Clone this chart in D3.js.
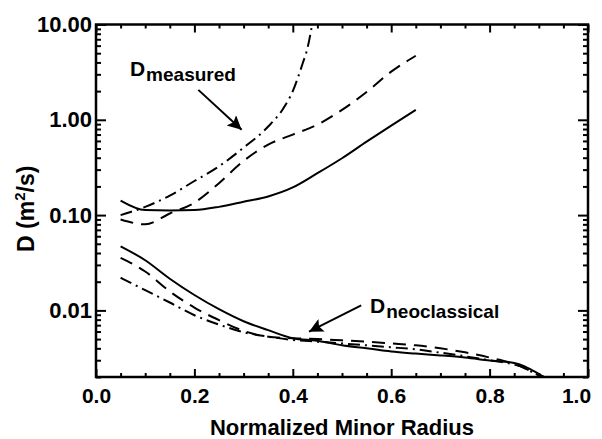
<!DOCTYPE html>
<html>
<head>
<meta charset="utf-8">
<script src="https://cdn.jsdelivr.net/npm/d3@7"></script>
<style>
    body { margin: 0; background: #fff; }
    svg text { font-family: "Liberation Sans", Arial, Helvetica, sans-serif; font-weight: bold; fill: #000; }
</style>
</head>
<body>
<svg id="chart" width="602" height="439"></svg>
<script>
    // measured diffusivities (upper group)
    var radiusMeasured = [0.05, 0.10, 0.15, 0.20, 0.25, 0.30, 0.35, 0.40, 0.45, 0.50, 0.55, 0.60, 0.65];
    var measuredSolid = [0.142, 0.113, 0.112, 0.113, 0.122, 0.138, 0.157, 0.195, 0.275, 0.395, 0.59, 0.87, 1.27];
    var measuredDashed = [0.090, 0.080, 0.104, 0.135, 0.216, 0.37, 0.55, 0.70, 0.89, 1.27, 1.96, 3.2, 4.7];
    var radiusDashDot = [0.05, 0.10, 0.15, 0.20, 0.25, 0.30, 0.35, 0.38, 0.40, 0.42, 0.43, 0.44];
    var measuredDashDot = [0.100, 0.122, 0.160, 0.228, 0.325, 0.51, 0.85, 1.3, 2.0, 3.9, 5.7, 10.5];

    // neoclassical diffusivities (lower group)
    var radiusNeo = [0.05, 0.10, 0.15, 0.20, 0.25, 0.30, 0.35, 0.40, 0.45, 0.50, 0.55, 0.60, 0.65, 0.70, 0.75, 0.80, 0.85, 0.87, 0.89, 0.91];
    var neoSolid = [0.047, 0.0336, 0.0215, 0.0145, 0.0103, 0.0077, 0.0062, 0.0051, 0.0048, 0.0043, 0.0040, 0.0037, 0.00352, 0.00337, 0.0032, 0.00298, 0.0028, 0.0026, 0.0023, 0.0020];
    var neoDashed = [0.0356, 0.0256, 0.0158, 0.0107, 0.0079, 0.0061, 0.0053, 0.0051, 0.0050, 0.00485, 0.0047, 0.0045, 0.0043, 0.0040, 0.00363, 0.0032, 0.00275, 0.0025, 0.0022, 0.0020];
    var neoDashDot = [0.022, 0.0163, 0.0121, 0.0089, 0.0071, 0.0059, 0.0053, 0.0049, 0.0047, 0.0045, 0.0043, 0.0041, 0.0039, 0.0036, 0.0033, 0.0030, 0.0027, 0.0025, 0.0022, 0.0020];

    var xTickValues = [0, 0.2, 0.4, 0.6, 0.8, 1.0];
    var yTickValues = [0.01, 0.1, 1, 10];

    var svg = d3.select('#chart');
    var margin = {top: 24.5, right: 14, bottom: 62, left: 96};
    var w = 602 - margin.left - margin.right;
    var h = 439 - margin.top - margin.bottom;

    var x = d3.scaleLinear().domain([0, 1]).range([0, w]);
    var y = d3.scaleLog().domain([0.002, 10]).range([h, 0]);

    var g = svg.append('g').attr('transform', 'translate(' + margin.left + ',' + margin.top + ')');

    g.append('clipPath').attr('id', 'plot-clip')
        .append('rect').attr('width', w).attr('height', h);

    // minor tick values
    var xMinor = d3.range(0, 1.0001, 0.05).filter(function (v) {
        return Math.abs(v * 5 - Math.round(v * 5)) > 1e-6;
    });
    var yMinor = [];
    [0.001, 0.01, 0.1, 1].forEach(function (dec) {
        for (var k = 2; k <= 9; k++) {
            var v = dec * k;
            if (v >= 0.002 && v <= 10) { yMinor.push(v); }
        }
    });

    function styleAxis(sel) {
        sel.attr('font-family', null).attr('font-size', 22);
        sel.select('.domain').remove();
        sel.selectAll('line').attr('stroke-width', 2);
    }

    // bottom / top axes
    var xAxisG = g.append('g').attr('transform', 'translate(0,' + h + ')')
        .call(d3.axisBottom(x).tickValues(xTickValues).tickSize(-8).tickPadding(11).tickFormat(d3.format('.1f')))
        .call(styleAxis)
        .attr('font-size', 21);
    // last label sits inside the picture edge, like the original
    xAxisG.selectAll('.tick text').filter(function (d) { return d === 1; }).attr('dx', -12);

    g.append('g').attr('transform', 'translate(0,' + h + ')')
        .call(d3.axisBottom(x).tickValues(xMinor).tickSize(-4).tickFormat(''))
        .call(styleAxis);
    g.append('g')
        .call(d3.axisTop(x).tickValues(xTickValues).tickSize(-8).tickFormat(''))
        .call(styleAxis);
    g.append('g')
        .call(d3.axisTop(x).tickValues(xMinor).tickSize(-4).tickFormat(''))
        .call(styleAxis);

    // left / right axes
    g.append('g')
        .call(d3.axisLeft(y).tickValues(yTickValues).tickSize(-10).tickPadding(4).tickFormat(d3.format('.2f')))
        .call(styleAxis);
    g.append('g')
        .call(d3.axisLeft(y).tickValues(yMinor).tickSize(-5).tickFormat(''))
        .call(styleAxis);
    g.append('g').attr('transform', 'translate(' + w + ',0)')
        .call(d3.axisRight(y).tickValues(yTickValues).tickSize(-10).tickFormat(''))
        .call(styleAxis);
    g.append('g').attr('transform', 'translate(' + w + ',0)')
        .call(d3.axisRight(y).tickValues(yMinor).tickSize(-5).tickFormat(''))
        .call(styleAxis);

    // frame
    g.append('rect')
        .attr('width', w).attr('height', h)
        .attr('fill', 'none').attr('stroke', '#000').attr('stroke-width', 2.5);

    var series = [
        {xs: radiusMeasured, ys: measuredSolid, dash: null},
        {xs: radiusMeasured, ys: measuredDashed, dash: '13,8'},
        {xs: radiusDashDot, ys: measuredDashDot, dash: '12,5,2,5'},
        {xs: radiusNeo, ys: neoSolid, dash: null},
        {xs: radiusNeo, ys: neoDashed, dash: '13,8'},
        {xs: radiusNeo, ys: neoDashDot, dash: '12,5,2,5'}
    ];

    var line = d3.line()
        .x(function (d) { return x(d[0]); })
        .y(function (d) { return y(d[1]); })
        .curve(d3.curveMonotoneX);

    g.append('g').attr('clip-path', 'url(#plot-clip)')
        .selectAll('path')
        .data(series)
        .enter().append('path')
        .attr('d', function (s) { return line(d3.zip(s.xs, s.ys)); })
        .attr('fill', 'none')
        .attr('stroke', '#000')
        .attr('stroke-width', 2)
        .attr('stroke-dasharray', function (s) { return s.dash; });

    // annotations
    var defs = svg.append('defs');
    defs.append('marker')
        .attr('id', 'arrow')
        .attr('viewBox', '0 0 10 10')
        .attr('refX', 10).attr('refY', 5)
        .attr('markerUnits', 'userSpaceOnUse')
        .attr('markerWidth', 17).attr('markerHeight', 14)
        .attr('orient', 'auto')
        .append('path').attr('d', 'M0,0 L10,5 L0,10 L2,5 Z').attr('fill', '#000');

    var arrows = [
        {from: [0.208, 2.06], to: [0.296, 0.785]},
        {from: [0.539, 0.0113], to: [0.433, 0.00598]}
    ];
    g.selectAll('.arrow')
        .data(arrows)
        .enter().append('line')
        .attr('class', 'arrow')
        .attr('x1', function (a) { return x(a.from[0]); })
        .attr('y1', function (a) { return y(a.from[1]); })
        .attr('x2', function (a) { return x(a.to[0]); })
        .attr('y2', function (a) { return y(a.to[1]); })
        .attr('stroke', '#000').attr('stroke-width', 2)
        .attr('marker-end', 'url(#arrow)');

    var labels = [
        {at: [0.069, 2.89], sub: 'measured'},
        {at: [0.557, 0.00946], sub: 'neoclassical'}
    ];
    var lbl = g.selectAll('.lbl')
        .data(labels)
        .enter().append('text')
        .attr('class', 'lbl')
        .attr('x', function (l) { return x(l.at[0]); })
        .attr('y', function (l) { return y(l.at[1]); })
        .attr('font-size', 21);
    lbl.append('tspan').text('D');
    lbl.append('tspan').attr('font-size', 19).attr('dy', 5).attr('dx', 1).text(function (l) { return l.sub; });

    // axis titles
    svg.append('text')
        .attr('x', margin.left + w / 2)
        .attr('y', 435)
        .attr('text-anchor', 'middle')
        .attr('font-size', 22)
        .text('Normalized Minor Radius');

    var yTitle = svg.append('text')
        .attr('transform', 'translate(34,' + (margin.top + h / 2 + 8) + ') rotate(-90)')
        .attr('text-anchor', 'middle')
        .attr('font-size', 23);
    yTitle.append('tspan').text('D (m');
    yTitle.append('tspan').attr('font-size', 15).attr('dy', -9).text('2');
    yTitle.append('tspan').attr('dy', 9).text('/s)');
</script>
</body>
</html>
